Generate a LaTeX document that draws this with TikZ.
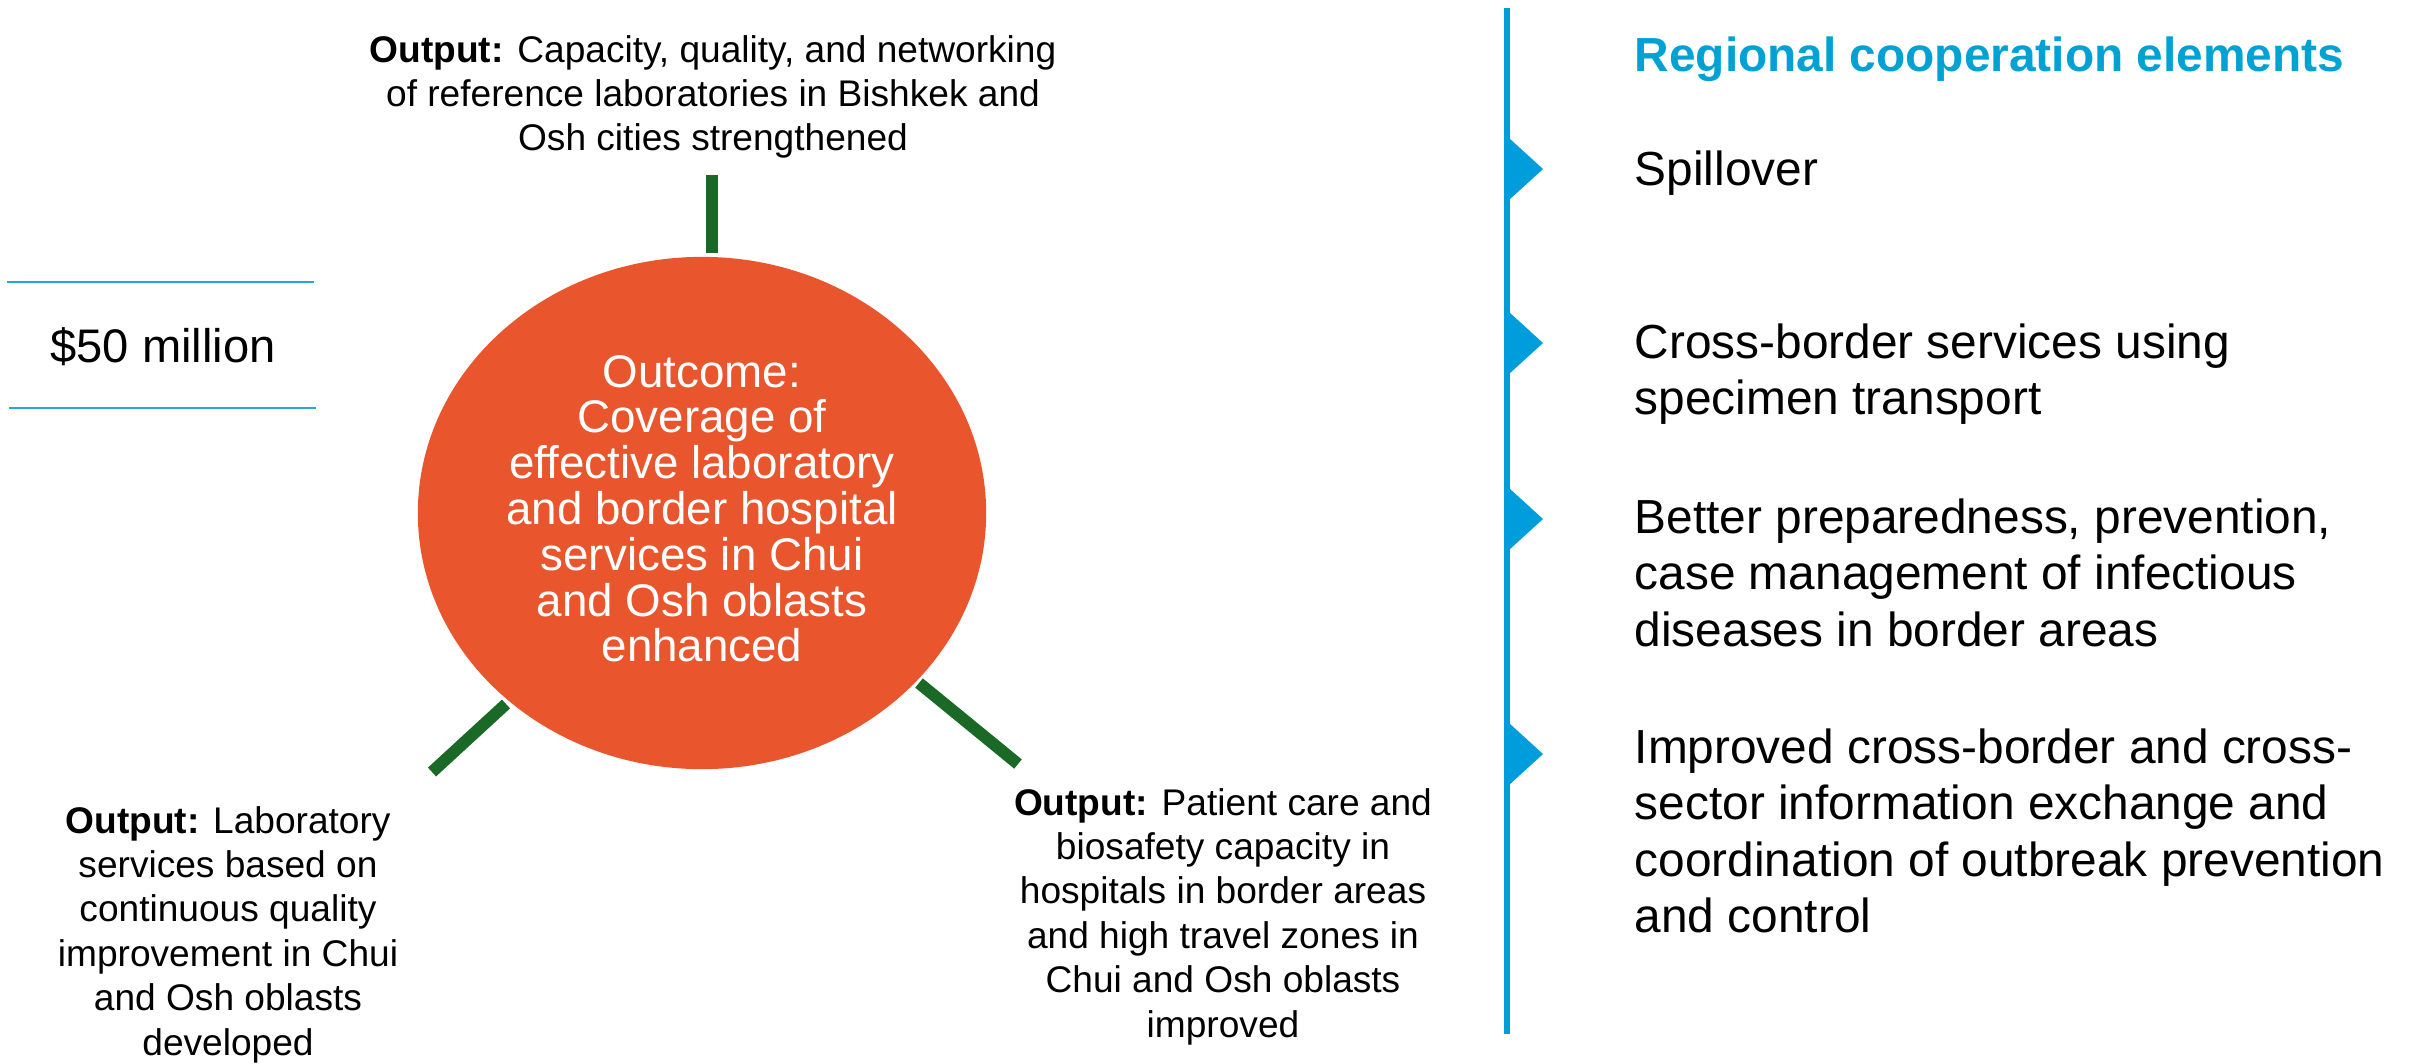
\documentclass[tikz,border=0pt]{standalone}
\usepackage{fontspec}
\setmainfont{Liberation Sans}
\usetikzlibrary{shapes.geometric}
\definecolor{orng}{RGB}{233,85,44}
\definecolor{grn}{RGB}{27,105,38}
\definecolor{lineblue}{RGB}{0,157,220}
\definecolor{titleblue}{RGB}{0,162,212}
\definecolor{ruleblue}{RGB}{40,165,222}
\newcommand{\ctab}[1]{\vtop{\lineskiplimit=-\maxdimen\let\\\cr\halign{\hfil##\hfil\cr#1\crcr}}}
\newcommand{\ltab}[1]{\vtop{\lineskiplimit=-\maxdimen\let\\\cr\halign{##\hfil\cr#1\crcr}}}
\begin{document}
\begin{tikzpicture}[x=0.01cm,y=-0.01cm,
  outtext/.style={anchor=base, inner sep=0pt, font=\fontsize{10.55pt}{12.63pt}\selectfont},
  outcometext/.style={anchor=base, inner sep=0pt, text=white, font=\fontsize{13pt}{13.03pt}\selectfont},
  rctext/.style={anchor=base west, inner sep=0pt, font=\fontsize{13.6pt}{16.1pt}\selectfont},
  titletext/.style={anchor=base west, inner sep=0pt, text=titleblue, font=\fontsize{13.6pt}{16.1pt}\selectfont\bfseries},
  budgettext/.style={anchor=base, inner sep=0pt, font=\fontsize{13.4pt}{16pt}\selectfont},
  outcomecirc/.style={ellipse, fill=orng, inner sep=0pt, minimum width=5.68cm, minimum height=5.12cm},
  spoke/.style={draw=grn, line width=3.41pt},
  marker/.style={fill=lineblue},
  vrule/.style={draw=lineblue, line width=1.71pt},
  hrule/.style={draw=ruleblue, line width=0.4pt}]
\useasboundingbox (0,0) rectangle (2415,1063);
\fill[white] (0,0) rectangle (2415,1063);

% budget
\coordinate (r1a) at (7,282); \coordinate (r1b) at (314,282);
\coordinate (r2a) at (9,408); \coordinate (r2b) at (316,408);
\draw[hrule] (r1a) -- (r1b);
\draw[hrule] (r2a) -- (r2b);
\node[budgettext] (budget) at (163,362) {\$50 million};

% outcome circle
\node[outcomecirc] (outcome) at (702,513) {};
\node[outcometext] (outcometxt) at (702,387) {\ctab{Outcome:\\Coverage of\\effective laboratory\\and border hospital\\services in Chui\\and Osh oblasts\\enhanced}};

% spokes
\coordinate (s1a) at (712,175); \coordinate (s1b) at (712,253);
\coordinate (s2a) at (506,704); \coordinate (s2b) at (432,772);
\coordinate (s3a) at (919,683); \coordinate (s3b) at (1018,764);
\draw[spoke] (s1a) -- (s1b);
\draw[spoke] (s2a) -- (s2b);
\draw[spoke] (s3a) -- (s3b);

% outputs
\node[outtext] (out1) at (713,62) {\ctab{\textbf{Output:} Capacity, quality, and networking\\of reference laboratories in Bishkek and\\Osh cities strengthened}};
\node[outtext] (out2) at (228,833) {\ctab{\textbf{Output:} Laboratory\\services based on\\continuous quality\\improvement in Chui\\and Osh oblasts\\developed}};
\node[outtext] (out3) at (1223,815) {\ctab{\textbf{Output:} Patient care and\\biosafety capacity in\\hospitals in border areas\\and high travel zones in\\Chui and Osh oblasts\\improved}};

% right column
\coordinate (vtop) at (1507,8); \coordinate (vbot) at (1507,1034);
\draw[vrule] (vtop) -- (vbot);
\foreach \yy in {169,343,519,754} {
  \fill[marker] (1509,\yy-31) -- (1543,\yy) -- (1509,\yy+31) -- cycle;
}
\node[titletext] (rctitle) at (1634,71) {Regional cooperation elements};
\node[rctext] (rc1) at (1634,185) {Spillover};
\node[rctext] (rc2) at (1634,358) {\ltab{Cross-border services using\\specimen transport}};
\node[rctext] (rc3) at (1634,533) {\ltab{Better preparedness, prevention,\\case management of infectious\\diseases in border areas}};
\node[rctext] (rc4) at (1634,763) {\ltab{Improved cross-border and cross-\\sector information exchange and\\coordination of outbreak prevention\\and control}};
\end{tikzpicture}
\end{document}
